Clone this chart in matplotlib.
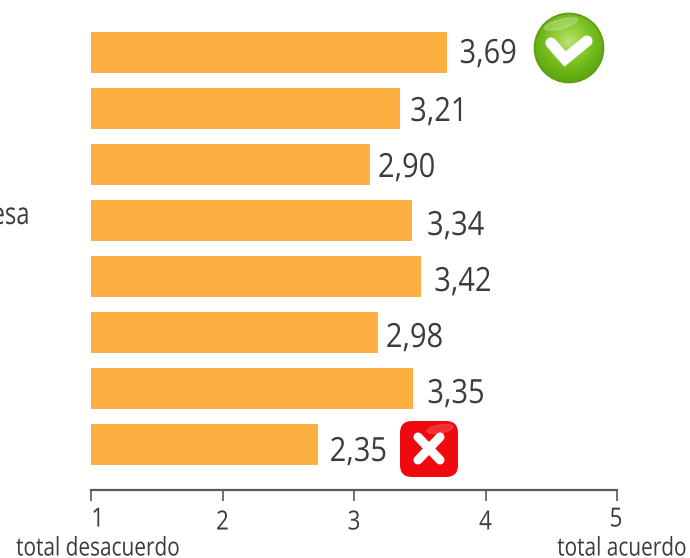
import numpy as np
import matplotlib
matplotlib.use('Agg')
import matplotlib.pyplot as plt
from matplotlib.colors import LinearSegmentedColormap
from matplotlib.patches import Circle, FancyBboxPatch, Ellipse
from matplotlib.patheffects import AbstractPathEffect
from matplotlib.transforms import Affine2D

# the printed labels do not match the bar lengths on the axis, so both are kept
labels = ['3,69', '3,21', '2,90', '3,34', '3,42', '2,98', '3,35', '2,35']
bar_ends = [3.71, 3.35, 3.12, 3.44, 3.51, 3.18, 3.45, 2.73]
scale_ticks = [1, 2, 3, 4, 5]
scale_ends = ['total desacuerdo', 'total acuerdo']

plt.rcParams['font.family'] = ['Open Sans', 'DejaVu Sans']
BAR = '#FDB041'
TXT = '#3C3C3E'
W, H = 690, 558


# no condensed font installed, so squeeze the glyphs sideways
class Narrow(AbstractPathEffect):
    def __init__(self, sx, anchor=0.0):
        super().__init__()
        self.sx = sx
        self.anchor = anchor

    def draw_path(self, renderer, gc, tpath, affine, rgbFace=None):
        ext = tpath.get_extents()
        x0 = ext.x0 + self.anchor * ext.width
        squeeze = Affine2D().translate(-x0, 0).scale(self.sx, 1).translate(x0, 0)
        renderer.draw_path(gc, tpath, squeeze + affine, rgbFace)


fig = plt.figure(figsize=(W / 100, H / 100), dpi=100)

# axes fills the figure, limits put 1 at px 91, 5 at px 617, first bar at px 52.5
ax = fig.add_axes([0, 0, 1, 1])
unit = (617 - 91) / 4
step = 56
top = 52.5
ax.set_xlim(1 - 91 / unit, 1 + (W - 91) / unit)
ax.set_ylim((H - top) / step, -top / step)

ypos = np.arange(len(bar_ends))
ax.barh(ypos, np.array(bar_ends) - 1, left=1, height=41 / step, color=BAR)

# the labels are not placed evenly after the bars in the original
gaps = [12, 10, 8, 15, 13, 8, 14, 11]
drops = [2, 4, 4, 6, 6, 6, 6, 8]
for y, end, lab, gap, drop in zip(ypos, bar_ends, labels, gaps, drops):
    ax.annotate(lab, (end, y), xytext=(gap, -drop), textcoords='offset pixels',
                ha='left', va='center', fontsize=24, color=TXT,
                path_effects=[Narrow(0.87)])

# axis line with ticks
axis_y = (490 - top) / step
for s in ['top', 'left', 'right']:
    ax.spines[s].set_visible(False)
ax.spines['bottom'].set_position(('data', axis_y))
ax.spines['bottom'].set_bounds(scale_ticks[0], scale_ticks[-1])
ax.spines['bottom'].set_color('#5A5A5A')
ax.spines['bottom'].set_linewidth(1.6)
ax.set_yticks([])
ax.set_xticks(scale_ticks)
ax.set_xticklabels([])
ax.tick_params(axis='x', direction='out', length=8, width=1.2, color='#5A5A5A')
ax.patch.set_alpha(0)

# tick labels sit a bit unevenly in the original
tick_off = [(7, 0), (0, -3), (0, -3), (0, -3), (-1, 0)]
for t, (dx, dy) in zip(scale_ticks, tick_off):
    ax.annotate(str(t), (t, axis_y), xytext=(dx, -30 + dy), textcoords='offset pixels',
                ha='center', va='center', fontsize=19, color=TXT,
                path_effects=[Narrow(0.85, 0.5)])
ax.annotate(scale_ends[0], (1, axis_y), xytext=(-75, -59), textcoords='offset pixels',
            ha='left', va='center', fontsize=18.5, color=TXT,
            path_effects=[Narrow(0.81)])
ax.annotate(scale_ends[1], (5, axis_y), xytext=(70, -59), textcoords='offset pixels',
            ha='right', va='center', fontsize=18.5, color=TXT,
            path_effects=[Narrow(0.81, 1.0)])

# overlay in pixels for the two icons and the cut off label
ov = fig.add_axes([0, 0, 1, 1])
ov.set_xlim(0, W)
ov.set_ylim(H, 0)
ov.axis('off')
ov.text(30, 216, 'esa', ha='right', va='center', fontsize=22, color=TXT,
        path_effects=[Narrow(0.78, 1.0)])

# green tick icon
cx, cy, r = 569, 48, 35
gx, gy = np.meshgrid(np.linspace(-1, 1, 140), np.linspace(-1, 1, 140))
dist = np.hypot(gx, gy + 0.2)
greens = LinearSegmentedColormap.from_list('g', ['#BCE27A', '#96D13C', '#74BC1C', '#5FA80F'])
im = ov.imshow(dist, extent=(cx - r, cx + r, cy + r, cy - r), cmap=greens, vmin=0, vmax=1.1, zorder=3)
im.set_clip_path(Circle((cx, cy), r, transform=ov.transData))
ov.add_patch(Circle((cx, cy), r - 0.5, fc='none', ec='#5C9E12', lw=1.2, zorder=4))
ov.add_patch(Ellipse((cx - 8, cy - 24), 34, 9, angle=-15, color='white', alpha=0.22, zorder=4))
ov.plot([cx - 18, cx - 4, cx + 18], [cy - 5, cy + 11, cy - 7], color='white', lw=8,
        solid_capstyle='round', solid_joinstyle='miter', zorder=5)

# red cross icon
ov.add_patch(FancyBboxPatch((400, 421), 58, 56, boxstyle='round,pad=0,rounding_size=12',
                            fc='#F00A10', ec='none', zorder=3))
ov.add_patch(Ellipse((440, 429), 26, 8, angle=-10, color='white', alpha=0.14, zorder=4))
ov.plot([418, 440], [437, 460], color='white', lw=6.5, solid_capstyle='round', zorder=5)
ov.plot([440, 418], [437, 460], color='white', lw=6.5, solid_capstyle='round', zorder=5)
ov.set_xlim(0, W)
ov.set_ylim(H, 0)

fig.savefig('out.png', dpi=100)
